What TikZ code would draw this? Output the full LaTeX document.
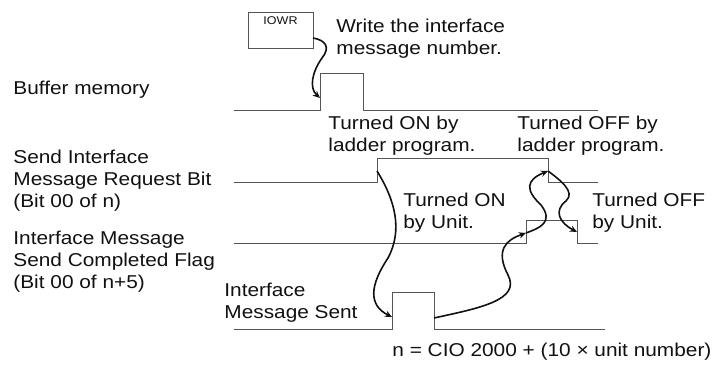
\documentclass[tikz,border=0pt]{standalone}
\usepackage{fontspec}
\setmainfont{Liberation Sans}[FakeStretch=1.12]
\usetikzlibrary{arrows.meta, positioning}
\definecolor{cline}{HTML}{555555}
\definecolor{cink}{HTML}{111111}
\tikzset{
  every picture/.style={font=\fontsize{9.3}{11}\selectfont},
  wave/.style={draw=cline, line width=0.5pt},
  flow/.style={-{Stealth[length=3.6pt, width=3.2pt]}, draw=cink, line width=0.8pt},
  lbl/.style={anchor=base west, inner sep=0pt, align=left, text=cink},
  regbox/.style={draw=cline, line width=0.5pt, minimum width=32.5pt, minimum height=18pt, inner sep=0pt},
}

\begin{document}
\begin{tikzpicture}[x=0.5pt, y=-0.5pt]
  \useasboundingbox (0,0) rectangle (718,368);
  % IOWR instruction
  \node[regbox] (iowr) at (280.5,31) {};
  \node[font=\fontsize{5.6}{6}\selectfont, text=cink, inner sep=0pt] (iowrlbl) at (280.5,21) {IOWR};
  % signal lines: name/base/rise/fall/top/end
  \foreach \n/\y/\a/\b/\h/\e in {buf/111/320/363/74/598, req/183/377/548/159/598,
                                  flag/244/526/577/221/598, sent/330/392/434/293/605}
    \draw[wave] (234,\y) -- (\a,\y) -- (\a,\h) -- (\b,\h) -- (\b,\y) -- (\e,\y);
  % arrow ends on the edges
  \coordinate (iowrout) at (313,38);
  \coordinate (bufon) at (320,98);
  \coordinate (reqon) at (377,171);
  \coordinate (reqoff) at (548,171);
  \coordinate (senton) at (392,317);
  \coordinate (sentoff) at (434,318);
  \coordinate (flagon) at (526,233);
  \coordinate (flagoff) at (577,232);
  % texts (y = baseline of the last line)
  \foreach \x/\y/\t/\n in {336/55/{Write the interface\\message number.}/write,
      13/95/{Buffer memory}/buffer,
      328/152/{Turned ON by\\ladder program.}/ladon,
      517/152/{Turned OFF by\\ladder program.}/ladoff,
      13/208/{Send Interface\\Message Request Bit\\(Bit 00 of n)}/reqlbl,
      403/229/{Turned ON\\by Unit.}/uniton,
      592/229/{Turned OFF\\by Unit.}/unitoff,
      13/289/{Interface Message\\Send Completed Flag\\(Bit 00 of n+5)}/flaglbl,
      224/319/{Interface\\Message Sent}/sentlbl,
      392/357/{n = CIO 2000 + (10 × unit number)}/note}
    \node[lbl] (\n) at (\x,\y) {\t};
  % handshake arrows
  \draw[flow] (iowrout) .. controls (325,40) and (331,47) .. (322,58)
    .. controls (312,72) and (309,88) .. (bufon);
  \draw[flow] (reqon) .. controls (395,200) and (403,230) .. (388,258)
    .. controls (370,285) and (368,305) .. (senton);
  \draw[flow] (sentoff) .. controls (480,308) and (521,300) .. (508,275)
    .. controls (495,250) and (506,240) .. (flagon);
  \draw[flow] (flagon) .. controls (540,228) and (554,222) .. (541,205)
    .. controls (525,190) and (526,180) .. (reqoff);
  \draw[flow] (reqoff) .. controls (560,180) and (576,192) .. (566,201)
    .. controls (553,211) and (560,223) .. (flagoff);
\end{tikzpicture}
\end{document}
